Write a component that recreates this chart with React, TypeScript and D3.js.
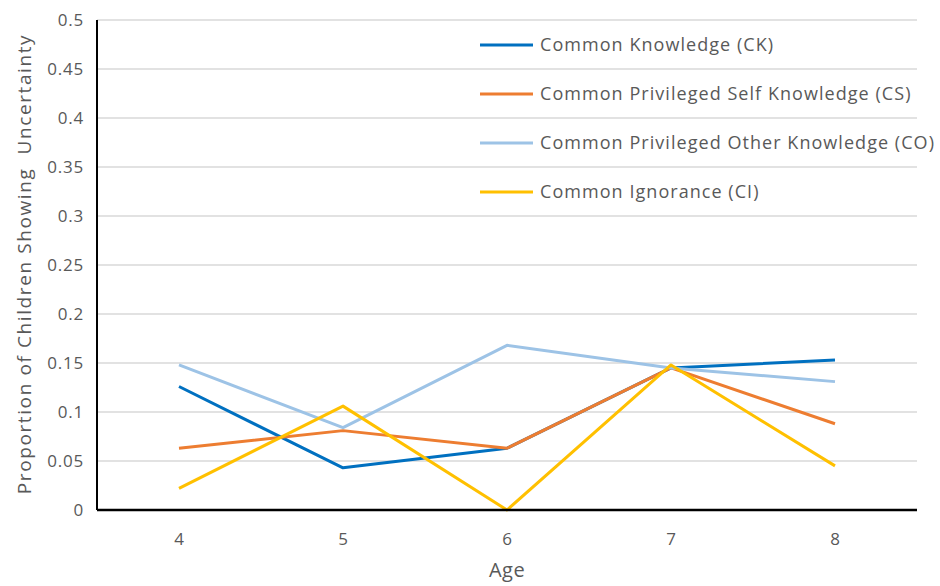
import React from "react";
import * as d3 from "d3";

const ages = ["4", "5", "6", "7", "8"];
const seriesNames = [
  "Common Knowledge (CK)",
  "Common Privileged Self Knowledge (CS)",
  "Common Privileged Other Knowledge (CO)",
  "Common Ignorance (CI)",
];
const ckValues = [0.126, 0.043, 0.063, 0.145, 0.153];
const csValues = [0.063, 0.081, 0.063, 0.145, 0.088];
const coValues = [0.148, 0.084, 0.168, 0.145, 0.131];
const ciValues = [0.022, 0.106, 0.0, 0.148, 0.045];
const yTicks = [0, 0.05, 0.1, 0.15, 0.2, 0.25, 0.3, 0.35, 0.4, 0.45, 0.5];
const colors = ["#0070C0", "#ED7D31", "#9DC3E6", "#FFC000"];

const W = 940;
const H = 586;
const left = 97;
const right = 917;
const top = 20;
const bottom = 510;
const font = "'Open Sans', sans-serif";
const textColor = "#595959";

export default function App() {
  const x = d3.scaleBand<string>().domain(ages).range([left, right]);
  const y = d3.scaleLinear().domain([0, 0.5]).range([bottom, top]);
  const cx = (a: string) => (x(a) as number) + x.bandwidth() / 2;
  const line = d3
    .line<number>()
    .x((_, i) => cx(ages[i]))
    .y((v) => y(v));
  const allSeries = [ckValues, csValues, coValues, ciValues];

  return (
    <svg
      width={W}
      height={H}
      style={{ position: "absolute", left: 0, top: 0, background: "#fff" }}
      fontFamily={font}
    >
      {yTicks.map((t) => (
        <g key={t}>
          {t > 0 && (
            <line x1={left} x2={right} y1={y(t)} y2={y(t)} stroke="#d9d9d9" strokeWidth={1.5} />
          )}
          <text
            x={84}
            y={y(t)}
            dy="0.35em"
            textAnchor="end"
            fontSize={17}
            letterSpacing={0.8}
            fill={textColor}
          >
            {t}
          </text>
        </g>
      ))}
      {ages.map((a) => (
        <text
          key={a}
          x={cx(a)}
          y={545}
          textAnchor="middle"
          fontSize={17}
          fill={textColor}
        >
          {a}
        </text>
      ))}
      {allSeries.map((vals, i) => (
        <path
          key={i}
          d={line(vals) as string}
          fill="none"
          stroke={colors[i]}
          strokeWidth={3}
          strokeLinejoin="round"
        />
      ))}
      <line x1={left} x2={left} y1={top} y2={bottom} stroke="#000" strokeWidth={2} />
      <line x1={left} x2={right} y1={bottom} y2={bottom} stroke="#000" strokeWidth={2.5} />
      {seriesNames.map((name, i) => {
        const ly = 45 + i * 49;
        return (
          <g key={name}>
            <line x1={480} x2={533} y1={ly} y2={ly} stroke={colors[i]} strokeWidth={3} />
            <text
              x={540}
              y={ly}
              dy="0.35em"
              fontSize={18}
              letterSpacing={1.05}
              fill={textColor}
            >
              {name}
            </text>
          </g>
        );
      })}
      <text
        x={507}
        y={577}
        textAnchor="middle"
        fontSize={20}
        letterSpacing={0.5}
        fill={textColor}
      >
        Age
      </text>
      <text
        transform={`translate(31,264) rotate(-90)`}
        textAnchor="middle"
        fontSize={19}
        letterSpacing={1.6}
        fill={textColor}
        style={{ whiteSpace: "pre" }}
      >
        Proportion of Children Showing  Uncertainty
      </text>
    </svg>
  );
}
